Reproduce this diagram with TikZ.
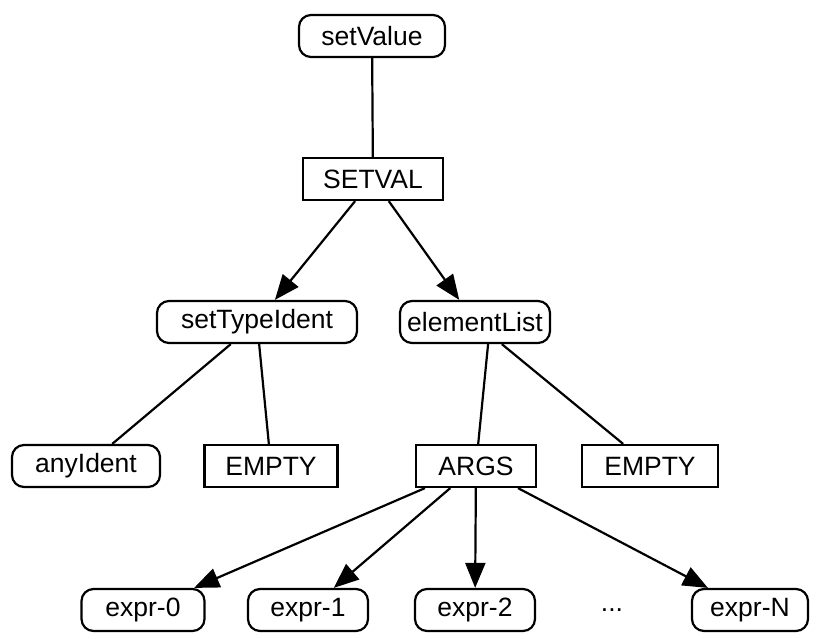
\documentclass[tikz,border=0pt]{standalone}
\usepackage{fontspec}
\setmainfont{Liberation Sans}
\usetikzlibrary{arrows.meta}
\begin{document}
\begin{tikzpicture}[x=1pt,y=-1pt,
  base/.style={draw=black, line width=2.2pt, font=\fontsize{26.5}{30}\selectfont, minimum height=42pt, inner sep=0pt},
  rnode/.style={base, rounded corners=12pt},
  snode/.style={base},
  plain/.style={line width=2.2pt},
  arr/.style={line width=2.2pt, -{Triangle[length=25pt,width=20pt]}}]
\useasboundingbox (0,0) rectangle (836,638);
\node[rnode, minimum width=146pt] (setValue) at (372,36) {setValue};
\node[snode, minimum width=140pt] (SETVAL) at (373,179) {SETVAL};
\node[rnode, minimum width=200pt] (setTypeIdent) at (257,322) {setTypeIdent};
\node[rnode, minimum width=150pt] (elementList) at (475,322) {elementList};
\node[rnode, minimum width=148pt] (anyIdent) at (86,466) {anyIdent};
\node[snode, minimum width=133pt] (emptyL) at (271,466) {EMPTY};
\node[snode, minimum width=120pt] (ARGS) at (476,466) {ARGS};
\node[snode, minimum width=136pt] (emptyR) at (650,466) {EMPTY};
\node[rnode, minimum width=123pt] (e0) at (143,610) {expr-0};
\node[rnode, minimum width=120pt] (e1) at (308,610) {expr-1};
\node[rnode, minimum width=120pt] (e2) at (475,610) {expr-2};
\node[font=\fontsize{26.5}{30}\selectfont] (dots) at (612,610) {...};
\node[rnode, minimum width=116pt] (eN) at (750,610) {expr-N};
\draw[plain] (setValue) -- (SETVAL);
\draw[arr] (SETVAL) -- (setTypeIdent);
\draw[arr] (SETVAL) -- (elementList);
\draw[plain] (setTypeIdent) -- (anyIdent);
\draw[plain] (setTypeIdent) -- (emptyL);
\draw[plain] (elementList.south east) ++(-63pt,0) coordinate (elS) (elS) -- (ARGS);
\draw[plain] (elementList) -- (emptyR);
\draw[arr] (ARGS) -- (e0);
\draw[arr] (ARGS) -- (e1);
\draw[arr] (ARGS) -- (e2);
\draw[arr] (ARGS) -- (eN);
\end{tikzpicture}
\end{document}
